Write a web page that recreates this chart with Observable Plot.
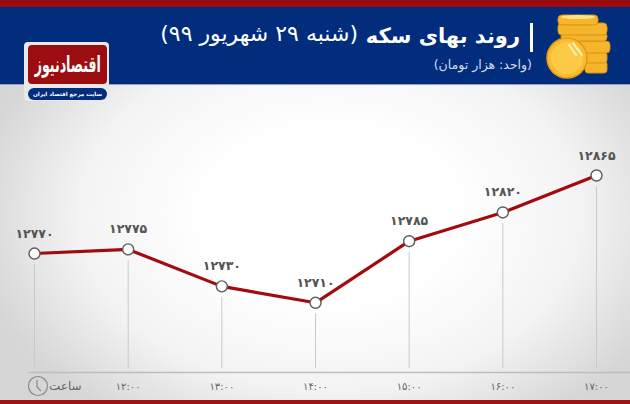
<!DOCTYPE html>
<html lang="fa"><head><meta charset="utf-8">
<script src="https://cdn.jsdelivr.net/npm/d3@7"></script>
<script src="https://cdn.jsdelivr.net/npm/@observablehq/plot@0.6"></script>
<style>
html,body{margin:0;padding:0;width:630px;height:404px;overflow:hidden}
#page{position:relative;width:630px;height:404px;overflow:hidden;font-family:"DejaVu Sans",sans-serif;
background:radial-gradient(ellipse 360px 250px at 330px 215px,#fff 35%,#f3f3f3 70%,#d6d6d6 100%)}
#chart{position:absolute;left:0;top:0}
#chart svg{display:block;background:transparent}
.abs{position:absolute}
#top{left:0;top:0;width:630px;height:7px;background:#9b0a0d}
#band{left:0;top:7px;width:630px;height:77px;background:#022d7c;border-bottom:1px solid #8fa0c8}
#bot{left:0;top:400px;width:630px;height:4px;background:#a50f12}
#titleB{right:110px;top:21px;color:#fff;font:bold 21px/30px "DejaVu Sans",sans-serif;white-space:nowrap;direction:rtl}
#titleN{right:272px;top:19px;color:#fff;font:normal 22px/30px "DejaVu Sans",sans-serif;white-space:nowrap;direction:rtl}
#sep{left:530px;top:23px;width:2.5px;height:29px;background:#fff}
#unit{right:98px;top:56px;color:#d5dbe9;font-size:12.5px;line-height:18px;direction:rtl;white-space:nowrap}
#logo{left:24px;top:42px;width:85px;height:59px;background:#e9e9e9;border-radius:4px}
#logoR{left:28px;top:45px;width:79px;height:39px;background:#9b0d10;border-radius:4px;color:#fff;display:flex;justify-content:center;direction:rtl;white-space:nowrap;overflow:hidden}
#logoR span{flex:none;font:bold 17px/38px "DejaVu Serif","DejaVu Sans",serif;transform:scale(.74,1.3)}
#logoB{left:28px;top:88px;width:79px;height:12px;background:#022d7c;border-radius:6px;color:#fff;font:bold 5.6px/12px "DejaVu Sans",sans-serif;text-align:center;direction:rtl;white-space:nowrap}
#hour{left:49px;top:378px;color:#666;font-size:12px;line-height:16px;direction:rtl}
</style></head><body>
<div id="page">
<div id="chart" class="abs"></div>
<div id="top" class="abs"></div>
<div id="band" class="abs"></div>
<div id="bot" class="abs"></div>
<div id="titleB" class="abs">روند بهای سکه</div>
<div id="titleN" class="abs">(شنبه ۲۹ شهریور ۹۹)</div>
<div id="sep" class="abs"></div>
<div id="unit" class="abs">(واحد: هزار تومان)</div>
<div id="logo" class="abs"></div>
<div id="logoR" class="abs"><span>اقتصادنیوز</span></div>
<div id="logoB" class="abs">سایت مرجع اقتصاد ایران</div>
<svg class="abs" style="left:545px;top:12px" width="70" height="70" viewBox="0 0 70 70">
<g fill="#f6b62c" stroke="#d98f12" stroke-width="1">
<rect x="40" y="49" width="22" height="12" rx="3"/>
<rect x="40" y="40" width="22" height="11" rx="3"/>
<rect x="25" y="29" width="40" height="12" rx="4"/>
<rect x="16" y="20" width="46" height="9" rx="4"/>
<rect x="13" y="11" width="49" height="12" rx="4"/>
<rect x="13" y="3" width="40" height="10" rx="4"/>
</g>
<ellipse cx="33" cy="5" rx="17" ry="2" fill="#ffe08a"/>
<circle cx="22" cy="46" r="20" fill="#f8bd2e" stroke="#e39a18" stroke-width="1.5"/>
<circle cx="22" cy="46" r="16" fill="#fdca45"/>
<path d="M24 33l7 10M28 31l9 12" stroke="#fff3c4" stroke-width="2" stroke-linecap="round"/>
</svg>
<svg class="abs" style="left:27px;top:375px" width="22" height="22" viewBox="0 0 22 22">
<circle cx="11" cy="11" r="9.5" fill="none" stroke="#8a8a8a" stroke-width="1.2"/>
<path d="M10 5v7l4 4" fill="none" stroke="#8a8a8a" stroke-width="1.2"/>
</svg>
<div id="hour" class="abs">ساعت</div>
</div>
<script>
const hours = [11, 12, 13, 14, 15, 16, 17];
const prices = [12770, 12775, 12730, 12710, 12785, 12820, 12865];
const priceLabels = ["۱۲۷۷۰", "۱۲۷۷۵", "۱۲۷۳۰", "۱۲۷۱۰", "۱۲۷۸۵", "۱۲۸۲۰", "۱۲۸۶۵"];
const tickHours = [12, 13, 14, 15, 16, 17];
const tickLabels = ["۱۲:۰۰", "۱۳:۰۰", "۱۴:۰۰", "۱۵:۰۰", "۱۶:۰۰", "۱۷:۰۰"];
const rows = hours.map((h, i) => ({h, p: prices[i], label: priceLabels[i]}));
const floor = 12630;

const plot = Plot.plot({
  width: 630, height: 404,
  marginTop: 0, marginBottom: 32, marginLeft: 0, marginRight: 0,
  style: {background: "transparent", fontFamily: "DejaVu Sans"},
  x: {domain: [11, 17], range: [34, 596], axis: null},
  y: {domain: [floor, 12865], range: [368, 175], axis: null},
  marks: [
    Plot.ruleX(rows, {x: "h", y1: "p", y2: floor, stroke: "#c9c9c9", strokeWidth: 1, insetTop: 11}),
    Plot.ruleY([floor], {y: floor, x1: 10.94, x2: 17.4, stroke: "#bdbdbd", strokeWidth: 1.5, dy: 4}),
    Plot.line(rows, {x: "h", y: "p", stroke: "#a30a0e", strokeWidth: 3.2}),
    Plot.dot(rows, {x: "h", y: "p", r: 5.5, fill: "#fff", stroke: "#5c5c5c", strokeWidth: 1.4}),
    Plot.text(rows, {x: "h", y: "p", text: "label", dy: -20, fontSize: 12.5, fontWeight: "bold", fill: "#555"}),
    Plot.text(tickHours, {x: d => d, y: floor, text: (d, i) => tickLabels[i], dy: 18, fontSize: 10, fill: "#666"})
  ]
});
document.getElementById("chart").appendChild(plot);
</script>
</body></html>
